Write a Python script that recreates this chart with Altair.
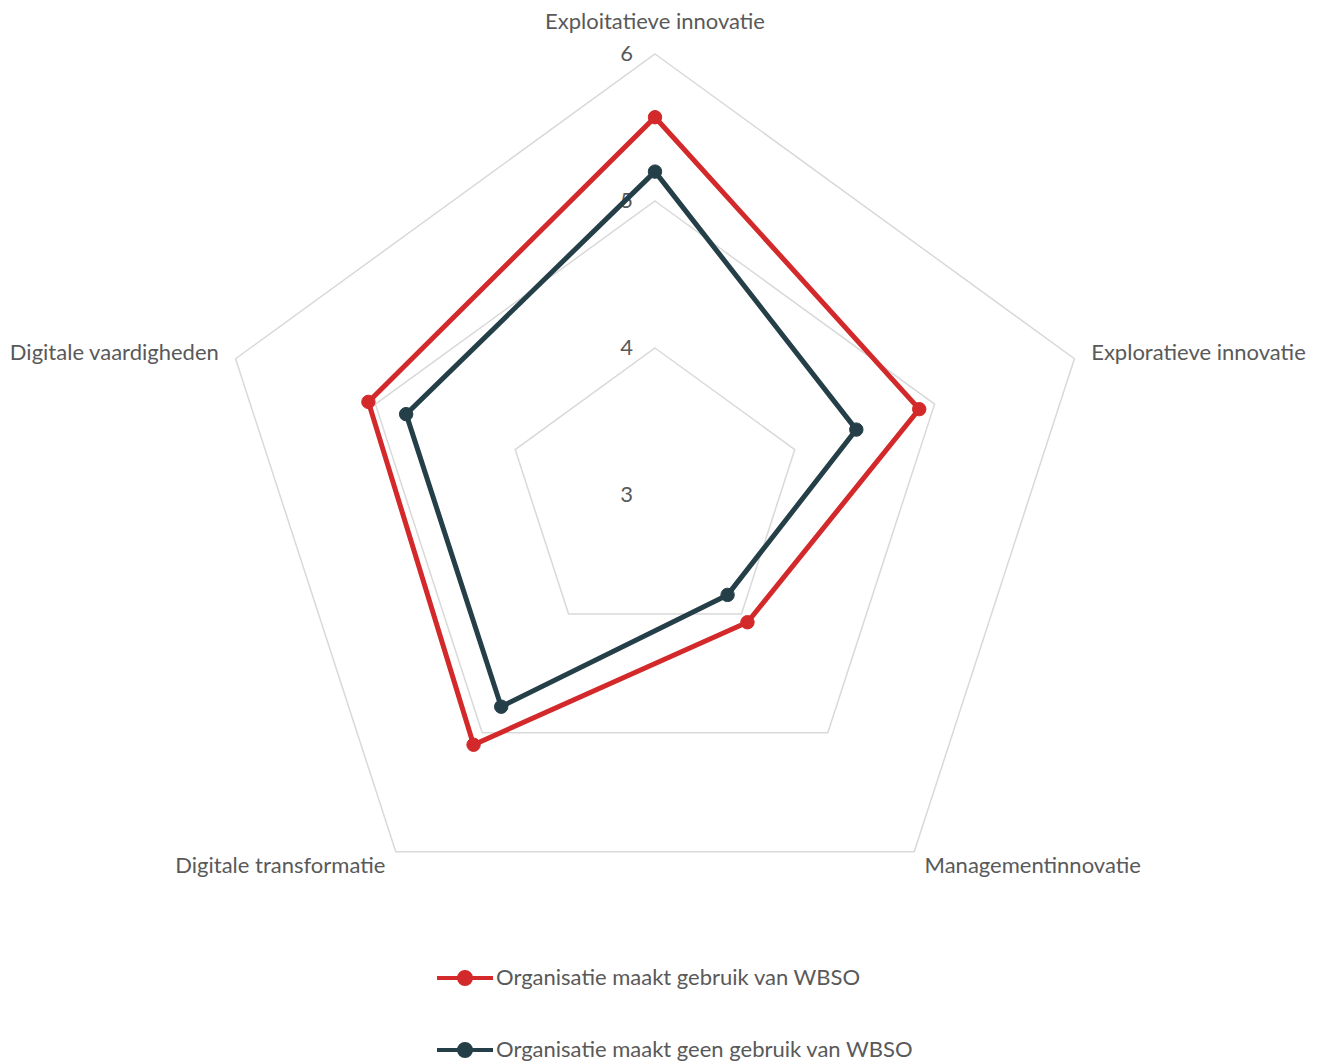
import altair as alt
import pandas as pd

# ---- data -------------------------------------------------------------
categories = [
    "Exploitatieve innovatie",
    "Exploratieve innovatie",
    "Managementinnovatie",
    "Digitale transformatie",
    "Digitale vaardigheden",
]
series = [
    "Organisatie maakt gebruik van WBSO",
    "Organisatie maakt geen gebruik van WBSO",
]
wbso = [5.57, 4.89, 4.07, 5.10, 5.05]
geen_wbso = [5.20, 4.44, 3.84, 4.78, 4.78]
grid_levels = [4, 5, 6]
tick_levels = [3, 4, 5, 6]
axis_min = 3
axis_max = 6

colors = ["#D3292B", "#243F48"]
grid_color = "#D9D9D9"
text_color = "#595959"
FONT = "Lato"
FS = 22

# ---- tables -----------------------------------------------------------
rows = []
for s, vals in zip(series, [wbso, geen_wbso]):
    for i, (c, v) in enumerate(zip(categories, vals)):
        rows.append({"series": s, "category": c, "idx": i, "value": v})
df = pd.DataFrame(rows)

grid_df = pd.DataFrame(
    [{"level": lv, "idx": i} for lv in grid_levels for i in range(len(categories))]
)
tick_df = pd.DataFrame({"level": tick_levels})
cat_df = pd.DataFrame({"category": categories, "idx": list(range(len(categories)))})

N = len(categories)
PX_PER_UNIT = 147.0
CX, CY = 655.0, 495.0
W, H = 1325, 1064
x_dom = [-CX / PX_PER_UNIT, (W - CX) / PX_PER_UNIT]
y_dom = [-(H - CY) / PX_PER_UNIT, CY / PX_PER_UNIT]

xs = alt.Scale(domain=x_dom, nice=False, zero=False)
ys = alt.Scale(domain=y_dom, nice=False, zero=False)

ang = f"datum.idx * 2 * PI / {N}"


def polar(base, rexpr):
    return base.transform_calculate(
        ang=ang, rr=rexpr
    ).transform_calculate(
        px="datum.rr * sin(datum.ang)", py="datum.rr * cos(datum.ang)"
    )


X = alt.X("px:Q", scale=xs, axis=None)
Y = alt.Y("py:Q", scale=ys, axis=None)

# grid pentagons
grid = polar(alt.Chart(grid_df), f"datum.level - {axis_min}").mark_line(
    interpolate="linear-closed", color=grid_color, strokeWidth=1.5
).encode(x=X, y=Y, detail="level:N", order="idx:Q")

# tick labels
ticks = alt.Chart(tick_df).transform_calculate(
    px="0", py=f"datum.level - {axis_min}"
).mark_text(
    align="right", baseline="middle", dx=-22, font=FONT, fontSize=FS, color=text_color
).encode(x=X, y=Y, text="level:Q")

sdom = alt.Scale(domain=series, range=colors)

legend = alt.Legend(
    title=None,
    orient="none",
    legendX=435,
    legendY=948,
    direction="vertical",
    symbolType="M-1,0H1M0.214,0A0.214,0.214,0,1,1,-0.214,0A0.214,0.214,0,1,1,0.214,0Z",
    symbolSize=3136,
    symbolStrokeWidth=4,
    labelFont=FONT,
    labelFontSize=FS,
    labelColor=text_color,
    labelOffset=1,
    rowPadding=28,
    labelLimit=600,
)

lines = polar(alt.Chart(df), f"datum.value - {axis_min}").mark_line(
    interpolate="linear-closed", strokeWidth=5
).encode(
    x=X, y=Y, order="idx:Q",
    stroke=alt.Stroke("series:N", scale=sdom, legend=legend),
)

points = polar(alt.Chart(df), f"datum.value - {axis_min}").mark_point(
    filled=True, size=180, opacity=1, strokeWidth=1
).encode(
    x=X, y=Y,
    fill=alt.Fill("series:N", scale=sdom, legend=legend),
    stroke=alt.Stroke("series:N", scale=sdom, legend=legend),
)

# category labels
label_r = "datum.idx == 0 ? 3.22 : 3.12"
lab_base = polar(alt.Chart(cat_df), label_r)
lab_kw = dict(baseline="middle", font=FONT, fontSize=FS, color=text_color)
lab_top = lab_base.transform_filter("datum.idx == 0").mark_text(align="center", **lab_kw).encode(
    x=X, y=Y, text="category:N")
lab_right = lab_base.transform_filter("datum.idx == 1 || datum.idx == 2").mark_text(
    align="left", **lab_kw).encode(x=X, y=Y, text="category:N")
lab_left = lab_base.transform_filter("datum.idx == 3 || datum.idx == 4").mark_text(
    align="right", **lab_kw).encode(x=X, y=Y, text="category:N")

chart = alt.layer(
    grid, ticks, lines, points, lab_top, lab_right, lab_left
).properties(
    width=W, height=H, autosize=alt.AutoSizeParams(type="none"), padding=0,
    background="white",
).configure_view(stroke=None)

chart.save("out.html", embed_options={"renderer": "svg", "actions": False})
